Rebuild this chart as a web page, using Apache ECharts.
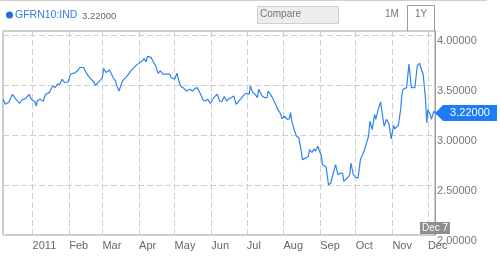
<!DOCTYPE html>
<html>
<head>
<meta charset="utf-8">
<script src="https://cdn.jsdelivr.net/npm/echarts@6/dist/echarts.min.js"></script>
<style>
html,body{margin:0;padding:0;background:#fff;}
#c{width:500px;height:260px;}
</style>
</head>
<body>
<div id="c"></div>
<script>
var ticker = 'GFRN10:IND';
var lastLabel = '3.22000';
var dateLabel = 'Dec 7';
var xMin = '2010-12-07';
var xMax = '2011-12-07';
var yTicks = [2.0, 2.5, 3.0, 3.5, 4.0];

var dates = [
'2010-12-07','2010-12-09','2010-12-12','2010-12-15','2010-12-18','2010-12-21','2010-12-23','2010-12-26','2010-12-29','2010-12-31',
'2011-01-03','2011-01-04','2011-01-05','2011-01-07','2011-01-10','2011-01-12','2011-01-15','2011-01-18','2011-01-20','2011-01-22',
'2011-01-24','2011-01-26','2011-01-28','2011-01-31','2011-02-02','2011-02-05','2011-02-08','2011-02-10','2011-02-13','2011-02-15',
'2011-02-17','2011-02-18','2011-02-22','2011-02-23','2011-02-26','2011-03-01','2011-03-02','2011-03-04','2011-03-07','2011-03-08',
'2011-03-10','2011-03-12','2011-03-13','2011-03-15','2011-03-18','2011-03-22','2011-03-25','2011-03-29','2011-04-01','2011-04-04',
'2011-04-05','2011-04-07','2011-04-08','2011-04-11','2011-04-13','2011-04-15','2011-04-17','2011-04-19','2011-04-21','2011-04-25',
'2011-04-27','2011-04-28','2011-05-01','2011-05-02','2011-05-03','2011-05-04','2011-05-06','2011-05-09','2011-05-11','2011-05-14',
'2011-05-16','2011-05-18','2011-05-20','2011-05-22','2011-05-23','2011-05-25','2011-05-27','2011-05-29','2011-05-31','2011-06-02',
'2011-06-03','2011-06-06','2011-06-08','2011-06-10','2011-06-12','2011-06-14','2011-06-16','2011-06-18','2011-06-20','2011-06-22',
'2011-06-26','2011-06-29','2011-07-01','2011-07-03','2011-07-04','2011-07-06','2011-07-08','2011-07-10','2011-07-11','2011-07-14',
'2011-07-16','2011-07-18','2011-07-19','2011-07-21','2011-07-24','2011-07-26','2011-07-27','2011-07-29','2011-07-31','2011-08-02',
'2011-08-04','2011-08-06','2011-08-07','2011-08-08','2011-08-10','2011-08-12','2011-08-14','2011-08-16','2011-08-17','2011-08-20',
'2011-08-22','2011-08-23','2011-08-25','2011-08-27','2011-08-28','2011-08-30','2011-08-31','2011-09-02','2011-09-03','2011-09-06',
'2011-09-08','2011-09-10','2011-09-11','2011-09-14','2011-09-16','2011-09-18','2011-09-20','2011-09-21','2011-09-24','2011-09-26',
'2011-09-27','2011-09-29','2011-10-01','2011-10-03','2011-10-05','2011-10-08','2011-10-11','2011-10-12','2011-10-13','2011-10-15',
'2011-10-17','2011-10-18','2011-10-20','2011-10-22','2011-10-25','2011-10-27','2011-10-29','2011-10-31','2011-11-02','2011-11-03',
'2011-11-06','2011-11-08','2011-11-09','2011-11-10','2011-11-13','2011-11-15','2011-11-17','2011-11-20','2011-11-22','2011-11-24',
'2011-11-25','2011-11-27','2011-11-29','2011-11-30','2011-12-01','2011-12-03','2011-12-04','2011-12-06','2011-12-07'
];
var values = [
3.357,3.307,3.330,3.407,3.357,3.317,3.350,3.364,3.407,3.357,
3.330,3.290,3.340,3.357,3.340,3.407,3.424,3.490,3.474,3.508,
3.508,3.558,3.525,3.530,3.608,3.618,3.641,3.675,3.675,3.631,
3.591,3.608,3.525,3.497,3.530,3.575,3.665,3.625,3.651,3.651,
3.575,3.541,3.497,3.440,3.541,3.591,3.641,3.691,3.719,3.742,
3.766,3.732,3.786,3.776,3.732,3.691,3.618,3.641,3.608,3.608,
3.608,3.575,3.558,3.575,3.618,3.565,3.490,3.464,3.440,3.457,
3.440,3.464,3.474,3.430,3.407,3.350,3.340,3.357,3.317,3.350,
3.374,3.407,3.340,3.334,3.384,3.340,3.364,3.374,3.390,3.307,
3.364,3.407,3.417,3.407,3.490,3.424,3.407,3.374,3.457,3.390,
3.374,3.374,3.440,3.407,3.340,3.290,3.256,3.223,3.163,3.189,
3.156,3.163,3.223,3.139,3.055,2.988,2.972,2.837,2.754,2.771,
2.787,2.854,2.827,2.861,2.837,2.887,2.905,2.787,2.704,2.680,
2.503,2.520,2.570,2.704,2.603,2.620,2.613,2.536,2.570,2.603,
2.720,2.603,2.576,2.570,2.754,2.837,2.955,2.995,3.139,3.055,
3.206,3.156,3.256,3.330,3.088,3.156,3.116,2.962,3.095,3.062,
3.095,3.256,3.407,3.457,3.474,3.709,3.474,3.474,3.691,3.719,
3.675,3.608,3.357,3.123,3.256,3.206,3.156,3.239,3.220
];

var seriesData = dates.map(function (d, i) { return [d, values[i]]; });
var lastPoint = seriesData[seriesData.length - 1];

var FONT = '"Liberation Sans", Arial, sans-serif';
var chart = echarts.init(document.getElementById('c'), null, {renderer: 'canvas'});
chart.setOption({
  animation: false,
  backgroundColor: '#fff',
  grid: {
    left: 3, right: 65, top: 31, bottom: 25,
    show: true, borderColor: '#9a9a9a', borderWidth: 1, backgroundColor: 'transparent'
  },
  xAxis: {
    type: 'time',
    min: xMin,
    max: xMax,
    splitNumber: 12,
    axisLine: {show: false},
    axisTick: {show: false},
    splitLine: {show: true, lineStyle: {color: '#cfcfcf', type: [6, 3], width: 1}},
    axisLabel: {
      color: '#666', fontSize: 11, fontFamily: FONT, align: 'left', margin: 5,
      showMinLabel: false, showMaxLabel: false, hideOverlap: false,
      formatter: {year: '{yyyy}', month: '{MMM}', day: '{MMM}'}
    }
  },
  yAxis: {
    type: 'value',
    position: 'right',
    min: 2.0,
    max: 4.04,
    interval: 0.5,
    axisLine: {show: true, lineStyle: {color: '#9a9a9a'}},
    axisTick: {show: false},
    splitLine: {show: true, lineStyle: {color: '#cfcfcf', type: [6, 3], width: 1}},
    axisLabel: {
      color: '#777', fontSize: 11, fontFamily: FONT, margin: 2, verticalAlign: 'top',
      showMaxLabel: false,
      formatter: function (v) { return yTicks.indexOf(Math.round(v * 100) / 100) >= 0 ? v.toFixed(5) : ''; }
    }
  },
  series: [{
    type: 'line',
    data: seriesData,
    showSymbol: false,
    symbol: 'none',
    lineStyle: {color: '#2f84f2', width: 1.2},
    markPoint: {
      silent: true,
      symbol: 'path://M0,8 L8,0 L62,0 L62,16 L8,16 Z',
      symbolSize: [62, 16],
      symbolKeepAspect: false,
      symbolOffset: ['50%', 0],
      itemStyle: {color: '#1f7cf7'},
      label: {show: true, color: '#fff', fontSize: 11, fontFamily: FONT, offset: [4, 0], formatter: lastLabel},
      data: [{coord: lastPoint}]
    }
  }],
  graphic: [
    {type: 'line', shape: {x1: 0, y1: 0.5, x2: 487, y2: 0.5}, style: {stroke: '#cfcfcf', lineWidth: 1}},
    {type: 'circle', shape: {cx: 9.5, cy: 15, r: 3.5}, style: {fill: '#1f6fe0'}},
    {type: 'text', left: 15, top: 10, style: {text: ticker, fill: '#2f7be6', font: '10.5px ' + FONT}},
    {type: 'text', left: 82, top: 11, style: {text: lastLabel, fill: '#666', font: '9.5px ' + FONT}},
    {type: 'rect', shape: {x: 257.5, y: 6.5, width: 81, height: 17}, style: {fill: '#ededed', stroke: '#d0d0d0', lineWidth: 1}},
    {type: 'text', left: 260, top: 9, style: {text: 'Compare', fill: '#777', font: '10px ' + FONT}},
    {type: 'text', left: 385, top: 9, style: {text: '1M', fill: '#777', font: '10px ' + FONT}},
    {type: 'polyline', shape: {points: [[407.5, 31], [407.5, 5.5], [434.5, 5.5], [434.5, 31]]}, style: {stroke: '#9a9a9a', fill: null, lineWidth: 1}},
    {type: 'text', left: 415, top: 9, style: {text: '1Y', fill: '#777', font: '10px ' + FONT}},
    {type: 'rect', z: 100, shape: {x: 420, y: 222, width: 30, height: 12}, style: {fill: '#8e8e8e'}},
    {type: 'text', z: 101, left: 422, top: 223, style: {text: dateLabel, fill: '#fff', font: '10px ' + FONT}}
  ]
});
</script>
</body>
</html>
